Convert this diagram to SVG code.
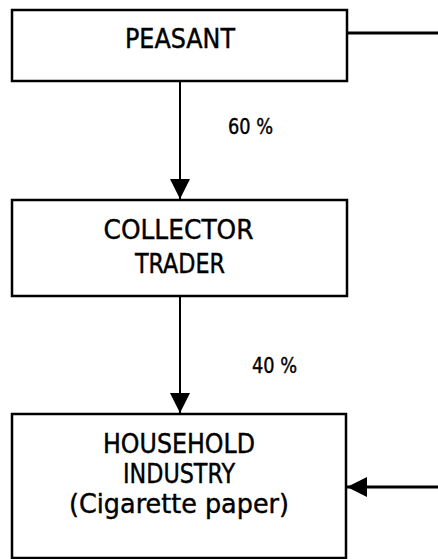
<svg xmlns="http://www.w3.org/2000/svg" width="438" height="559" viewBox="0 0 438 559">
<defs>
<style>
.box{fill:#fff;stroke:#000;stroke-width:2.5}
.t{font-family:"DejaVu Sans Condensed","DejaVu Sans",sans-serif;font-size:26px;fill:#000;stroke:#000;stroke-width:0.4;text-anchor:middle}
.p{font-family:"DejaVu Sans Condensed","DejaVu Sans",sans-serif;font-size:21px;fill:#000;stroke:#000;stroke-width:0.4;text-anchor:start}
.ln{stroke:#000;stroke-width:2;fill:none}
.lnb{stroke:#000;stroke-width:3;fill:none}
</style>
<marker id="ah" viewBox="0 0 20 20" refX="20" refY="10" markerWidth="20" markerHeight="20" markerUnits="userSpaceOnUse" orient="auto">
<path d="M0,0 L20,10 L0,20 Z" fill="#000"/>
</marker>
</defs>
<rect width="438" height="559" fill="#fff"/>
<g id="peasant">
<rect class="box" x="12" y="10" width="335" height="71"/>
<text class="t" x="180" y="48" textLength="110" lengthAdjust="spacingAndGlyphs">PEASANT</text>
</g>
<g id="collector">
<rect class="box" x="12" y="200" width="335" height="96"/>
<text class="t" x="178.5" y="239" style="font-size:27px" textLength="150" lengthAdjust="spacingAndGlyphs">COLLECTOR</text>
<text class="t" x="180" y="273" textLength="90" lengthAdjust="spacingAndGlyphs">TRADER</text>
</g>
<g id="household">
<rect class="box" x="12" y="414" width="334" height="144"/>
<text class="t" x="179" y="453" textLength="152" lengthAdjust="spacingAndGlyphs">HOUSEHOLD</text>
<text class="t" x="179" y="483" textLength="112" lengthAdjust="spacingAndGlyphs">INDUSTRY</text>
<text class="t" x="179" y="513" style="font-size:27px" textLength="220" lengthAdjust="spacingAndGlyphs">(Cigarette paper)</text>
</g>
<g id="connectors">
<line class="ln" x1="180" y1="81" x2="180" y2="199" marker-end="url(#ah)"/>
<text class="p" x="228" y="134" textLength="45" lengthAdjust="spacingAndGlyphs">60 %</text>
<line class="ln" x1="180" y1="296" x2="180" y2="413" marker-end="url(#ah)"/>
<text class="p" x="252" y="373" textLength="45" lengthAdjust="spacingAndGlyphs">40 %</text>
<line class="lnb" x1="347" y1="33" x2="438" y2="33"/>
<line class="lnb" x1="438" y1="487" x2="347" y2="487" marker-end="url(#ah)"/>
</g>
</svg>
